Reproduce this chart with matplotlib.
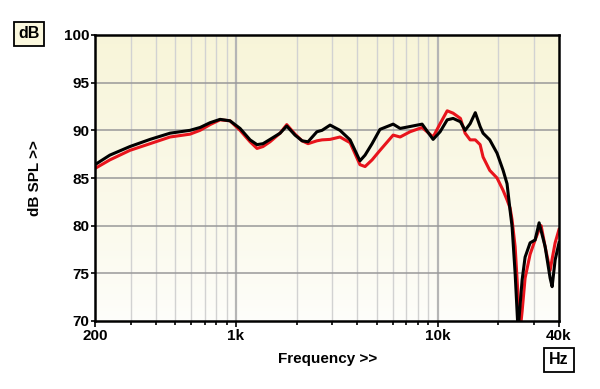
import matplotlib.pyplot as plt
import numpy as np

plt.rcParams['font.family'] = ['Liberation Sans', 'DejaVu Sans']

# frequency (Hz) and level (dB)
freq_black = [200, 237, 298, 375, 471, 592, 664, 744, 834, 934, 1048, 1175, 1272, 1362,
              1476, 1655, 1786, 1963, 2128, 2278, 2520, 2673, 2930, 3280, 3682, 4120,
              4368, 4732, 5180, 6020, 6520, 7300, 8380, 9500, 10290, 11160, 11940,
              12980, 13690, 14500, 15380, 16250, 16810, 18140, 19720, 21130, 22100,
              22880, 23410, 24240, 25060, 26250, 27160, 28760, 30450, 31880, 34140,
              36140, 36980, 38270, 40000]
spl_black = [86.4, 87.4, 88.3, 89.05, 89.7, 90.0, 90.3, 90.8, 91.15, 91.0, 90.2, 89.0, 88.5, 88.6,
             89.05, 89.7, 90.45, 89.5, 88.9, 88.8, 89.85, 90.0, 90.55, 90.0, 89.0, 86.8,
             87.4, 88.6, 90.1, 90.65, 90.2, 90.4, 90.65, 89.05, 89.85, 91.1, 91.25,
             90.9, 90.0, 90.7, 91.85, 90.4, 89.7, 89.0, 87.6, 85.8, 84.4,
             81.6, 79.9, 75.0, 69.0, 74.3, 76.7, 78.2, 78.5, 80.3, 77.8,
             74.5, 73.6, 76.4, 78.2]

freq_red = [200, 237, 298, 375, 471, 592, 664, 744, 834, 934, 1048, 1175, 1272, 1362,
            1476, 1655, 1786, 1963, 2128, 2278, 2520, 2673, 2930, 3280, 3682, 4120,
            4368, 4732, 5180, 6020, 6520, 7300, 8380, 9500, 10290, 11160, 11940,
            12980, 13690, 14500, 15380, 16250, 16810, 18140, 19720, 21130, 22100,
            22880, 23410, 24240, 25660, 26250, 27160, 28760, 30450, 31880, 32620,
            34140, 36140, 36980, 38270, 40000]
spl_red = [86.0, 86.9, 87.9, 88.6, 89.3, 89.6, 90.0, 90.6, 91.1, 91.0, 90.0, 88.8, 88.1, 88.3,
           88.8, 89.7, 90.6, 89.6, 88.9, 88.6, 88.9, 89.0, 89.05, 89.3, 88.7, 86.4,
           86.2, 86.9, 87.9, 89.5, 89.3, 89.85, 90.3, 89.3, 90.7, 92.05, 91.8,
           91.25, 89.7, 89.0, 89.0, 88.5, 87.2, 85.8, 85.0, 83.7, 82.7,
           81.85, 80.6, 77.8, 69.0, 71.0, 74.5, 77.0, 78.5, 79.6, 80.0,
           77.8, 75.3, 76.5, 78.2, 79.6]

y_ticks = [70, 75, 80, 85, 90, 95, 100]
x_ticks = [200, 1000, 10000, 40000]
x_labels = ['200', '1k', '10k', '40k']

fig = plt.figure(figsize=(6, 3.89), dpi=100)
ax = fig.add_axes([95 / 600, 1 - 321 / 389, 464 / 600, 286 / 389])

# yellowish gradient background
grad = np.linspace(0, 1, 256).reshape(-1, 1)
top = np.array([0.972, 0.960, 0.850])
bot = np.array([0.995, 0.995, 0.985])
img = bot + (top - bot) * grad[:, :, None] ** 0.8
ax.imshow(img, extent=[0, 1, 0, 1], transform=ax.transAxes, aspect='auto',
          origin='lower', zorder=0)

ax.set_xscale('log')
ax.set_xlim(200, 40000)
ax.set_ylim(70, 100)

# grid
minor = [300, 400, 500, 600, 700, 800, 900, 2000, 3000, 4000, 5000, 6000, 7000, 8000, 9000,
         20000, 30000]
for f in minor:
    ax.axvline(f, color='#d2d2d2', lw=1.0, zorder=1)
for f in [1000, 10000]:
    ax.axvline(f, color='#b5b5b5', lw=1.6, zorder=1)
for v in [75, 80, 85, 90, 95]:
    ax.axhline(v, color='#999999', lw=1.1, zorder=1)

ax.plot(freq_red, spl_red, color='#e8141c', lw=2.2, zorder=3)
ax.plot(freq_black, spl_black, color='black', lw=2.2, zorder=4)

ax.set_yticks(y_ticks)
ax.set_yticklabels([str(v) for v in y_ticks], fontsize=11, fontweight='bold')
ax.set_xticks(x_ticks)
ax.set_xticklabels(x_labels, fontsize=11, fontweight='bold')
ax.xaxis.set_minor_locator(plt.FixedLocator(minor))
ax.xaxis.set_minor_formatter(plt.NullFormatter())
ax.tick_params(axis='x', which='major', length=4, width=1.2, direction='out', pad=2)
ax.tick_params(axis='x', which='minor', length=3, width=1.2, direction='out')
ax.tick_params(axis='y', length=3, width=1.2, direction='out', pad=1)

for s in ax.spines.values():
    s.set_linewidth(1.8)
    s.set_zorder(5)

fig.text(328 / 600, 1 - 359 / 389, 'Frequency >>', ha='center', va='center',
         fontsize=11, fontweight='bold')
fig.text(35 / 600, 1 - 178 / 389, 'dB SPL >>', ha='center', va='center',
         fontsize=11, fontweight='bold', rotation=90)

fig.text(29 / 600, 1 - 34 / 389, 'dB', ha='center', va='center', fontsize=11.5,
         fontweight='bold',
         bbox=dict(boxstyle='square,pad=0.3', fc='#fbf8de', ec='black', lw=1.3))
fig.text(559 / 600, 1 - 360 / 389, 'Hz', ha='center', va='center', fontsize=11.5,
         fontweight='bold',
         bbox=dict(boxstyle='square,pad=0.3', fc='white', ec='black', lw=1.3))

fig.savefig('out.png', dpi=100)
